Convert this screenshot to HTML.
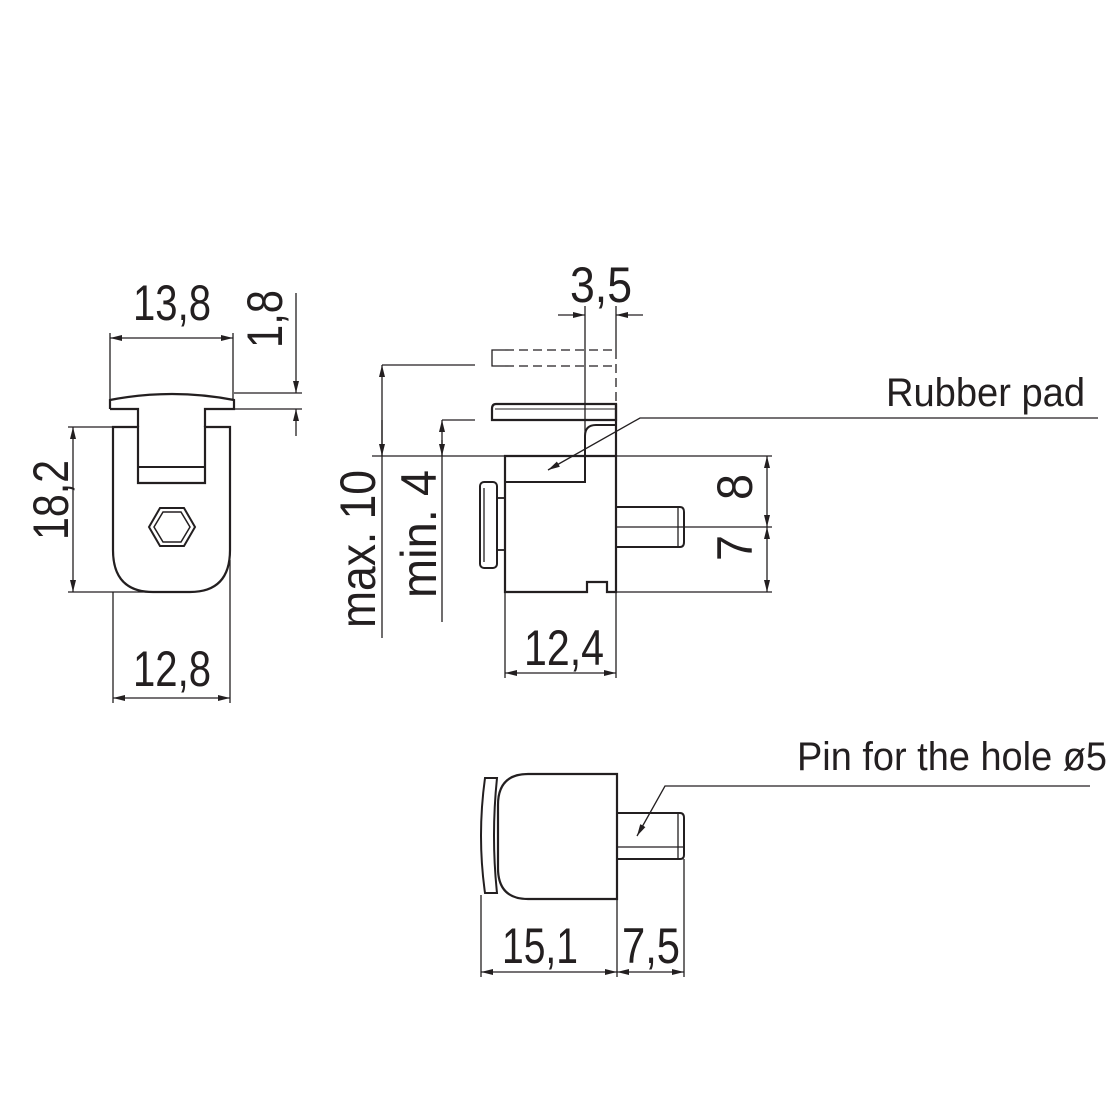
<!DOCTYPE html>
<html><head><meta charset="utf-8"><style>
html,body{margin:0;padding:0;background:#fff;}
svg{display:block;}
text{font-family:"Liberation Sans",sans-serif;fill:#231f20;}
</style></head><body>
<svg width="1115" height="1115" viewBox="0 0 1115 1115" xmlns="http://www.w3.org/2000/svg">
<defs>
<marker id="a" viewBox="0 0 12 6" refX="12" refY="3" markerWidth="12" markerHeight="6" markerUnits="userSpaceOnUse" orient="auto-start-reverse">
<path d="M0,0 L12,3 L0,6 Z" fill="#231f20"/></marker>
</defs>
<g stroke="#231f20" fill="none" stroke-width="1.3">
<!-- LEFT VIEW -->
<!-- head -->
<path d="M110,409 L110,400 Q172,388 234,400 L234,409 L205,409 L205,427 M110,409 L138,409 L138,427" stroke-width="2.2"/>
<path d="M113,427 L138,427 L138,483 L205,483 L205,427 L230,427 L230,550 Q230,592 190,592 L153,592 Q113,592 113,550 Z" stroke-width="2.2"/>
<line x1="138" y1="467" x2="205" y2="467" stroke-width="2"/>
<polygon points="149,527 160,508 184,508 195,527 184,546 160,546" stroke-width="2"/>
<polygon points="154,527 163,512 181,512 190,527 181,542 163,542" stroke-width="1.5"/>
<!-- 13,8 -->
<line x1="110" y1="333" x2="110" y2="400"/><line x1="233" y1="333" x2="233" y2="400"/>
<line x1="110" y1="338" x2="233" y2="338" marker-start="url(#a)" marker-end="url(#a)"/>
<!-- 1,8 -->
<line x1="234" y1="393" x2="302" y2="393"/><line x1="234" y1="409" x2="302" y2="409"/>
<line x1="296" y1="293" x2="296" y2="393" marker-end="url(#a)"/>
<line x1="296" y1="436" x2="296" y2="409" marker-end="url(#a)"/>
<!-- 18,2 -->
<line x1="68" y1="427" x2="113" y2="427"/><line x1="68" y1="592" x2="190" y2="592"/>
<line x1="73" y1="427" x2="73" y2="592" marker-start="url(#a)" marker-end="url(#a)"/>
<!-- 12,8 -->
<line x1="113" y1="592" x2="113" y2="703"/><line x1="230" y1="560" x2="230" y2="703"/>
<line x1="113" y1="698" x2="230" y2="698" marker-start="url(#a)" marker-end="url(#a)"/>

<!-- MIDDLE VIEW -->
<!-- dashed shelf -->
<path d="M505,350 L492,350 L492,366 L505,366" stroke-dasharray="none"/>
<line x1="505" y1="350" x2="616" y2="350" stroke-dasharray="9,5"/>
<line x1="505" y1="366" x2="616" y2="366" stroke-dasharray="9,5"/>
<line x1="616" y1="350" x2="616" y2="404" stroke-dasharray="9,5"/>
<!-- solid shelf -->
<path d="M616,404 L496,404 Q492,404 492,409 L492,420 L616,420 Z" stroke-width="2.2"/>
<line x1="495" y1="409" x2="616" y2="409" stroke-width="1"/>
<!-- body -->
<path d="M505,456 L616,456 L616,592 L607,592 L607,582 L587,582 L587,592 L505,592 Z" stroke-width="2.2"/>
<line x1="616" y1="404" x2="616" y2="456" stroke-width="2.2"/>
<path d="M505,482 L585,482 L585,436 Q585,425 596,425 L616,425" stroke-width="2"/>
<line x1="585" y1="306" x2="585" y2="436"/>
<!-- knob -->
<rect x="480" y="482" width="17" height="86" rx="4" stroke-width="2"/>
<line x1="484" y1="488" x2="484" y2="562"/>
<rect x="497" y="498" width="8" height="52" stroke-width="1.8"/>
<!-- pin -->
<path d="M616,507 L680,507 Q684,507 684,512 L684,542 Q684,547 680,547 L616,547" stroke-width="2"/>
<line x1="678" y1="508" x2="678" y2="546"/>
<line x1="616" y1="527" x2="772" y2="527"/>
<!-- 3,5 -->
<line x1="616" y1="306" x2="616" y2="350"/>
<line x1="558" y1="315" x2="585" y2="315" marker-end="url(#a)"/>
<line x1="643" y1="315" x2="616" y2="315" marker-end="url(#a)"/>
<!-- max 10 / min 4 -->
<line x1="372" y1="456" x2="616" y2="456"/>
<line x1="382" y1="365" x2="475" y2="365"/>
<line x1="382" y1="638" x2="382" y2="365" marker-end="url(#a)"/>
<line x1="382" y1="420" x2="382" y2="456" marker-end="url(#a)"/>
<line x1="442" y1="420" x2="475" y2="420"/>
<line x1="442" y1="622" x2="442" y2="420" marker-end="url(#a)"/>
<line x1="442" y1="440" x2="442" y2="456" marker-end="url(#a)"/>
<!-- 8 / 7 -->
<line x1="616" y1="456" x2="772" y2="456"/><line x1="616" y1="592" x2="772" y2="592"/>
<line x1="767" y1="456" x2="767" y2="527" marker-start="url(#a)" marker-end="url(#a)"/>
<line x1="767" y1="527" x2="767" y2="592" marker-start="url(#a)" marker-end="url(#a)"/>
<!-- 12,4 -->
<line x1="505" y1="592" x2="505" y2="678"/><line x1="616" y1="592" x2="616" y2="678"/>
<line x1="505" y1="673" x2="616" y2="673" marker-start="url(#a)" marker-end="url(#a)"/>
<!-- rubber pad leader -->
<path d="M1098,418 L640,418 L548,470" marker-end="url(#a)"/>

<!-- BOTTOM VIEW -->
<path d="M617,774 L528,774 Q498,774 498,805 L498,868 Q498,899 528,899 L617,899 Z" stroke-width="2.2"/>
<path d="M485,778 L497,778 Q491,836 497,893 L485,893 Q477,836 485,778 Z" stroke-width="2"/>
<path d="M617,813 L680,813 Q684,813 684,818 L684,855 Q684,859 680,859 L617,859" stroke-width="2"/>
<line x1="617" y1="847" x2="683" y2="847"/>
<line x1="678" y1="814" x2="678" y2="858"/>
<path d="M1090,786 L665,786 L637,836" marker-end="url(#a)"/>
<line x1="481" y1="895" x2="481" y2="977"/><line x1="617" y1="899" x2="617" y2="977"/><line x1="684" y1="859" x2="684" y2="977"/>
<line x1="481" y1="972" x2="617" y2="972" marker-start="url(#a)" marker-end="url(#a)"/>
<line x1="617" y1="972" x2="684" y2="972" marker-start="url(#a)" marker-end="url(#a)"/>
</g>

<g font-size="50">
<text x="133" y="320" textLength="78" lengthAdjust="spacingAndGlyphs">13,8</text>
<text x="133" y="686" textLength="78" lengthAdjust="spacingAndGlyphs">12,8</text>
<text transform="translate(282,348) rotate(-90)" textLength="58" lengthAdjust="spacingAndGlyphs">1,8</text>
<text transform="translate(68,540) rotate(-90)" textLength="80" lengthAdjust="spacingAndGlyphs">18,2</text>
<text x="570" y="302" textLength="62" lengthAdjust="spacingAndGlyphs">3,5</text>
<text x="524" y="665" textLength="80" lengthAdjust="spacingAndGlyphs">12,4</text>
<text transform="translate(375,628) rotate(-90)" textLength="158" lengthAdjust="spacingAndGlyphs">max. 10</text>
<text transform="translate(436,598) rotate(-90)" textLength="128" lengthAdjust="spacingAndGlyphs">min. 4</text>
<text transform="translate(752,500) rotate(-90)" textLength="26" lengthAdjust="spacingAndGlyphs">8</text>
<text transform="translate(752,561) rotate(-90)" textLength="26" lengthAdjust="spacingAndGlyphs">7</text>
<text x="502" y="963" textLength="76" lengthAdjust="spacingAndGlyphs">15,1</text>
<text x="622" y="963" textLength="58" lengthAdjust="spacingAndGlyphs">7,5</text>
</g>
<g font-size="40">
<text x="886" y="406" textLength="199" lengthAdjust="spacingAndGlyphs">Rubber pad</text>
<text x="797" y="770" textLength="310" lengthAdjust="spacingAndGlyphs">Pin for the hole ø5</text>
</g>
</svg>
</body></html>
